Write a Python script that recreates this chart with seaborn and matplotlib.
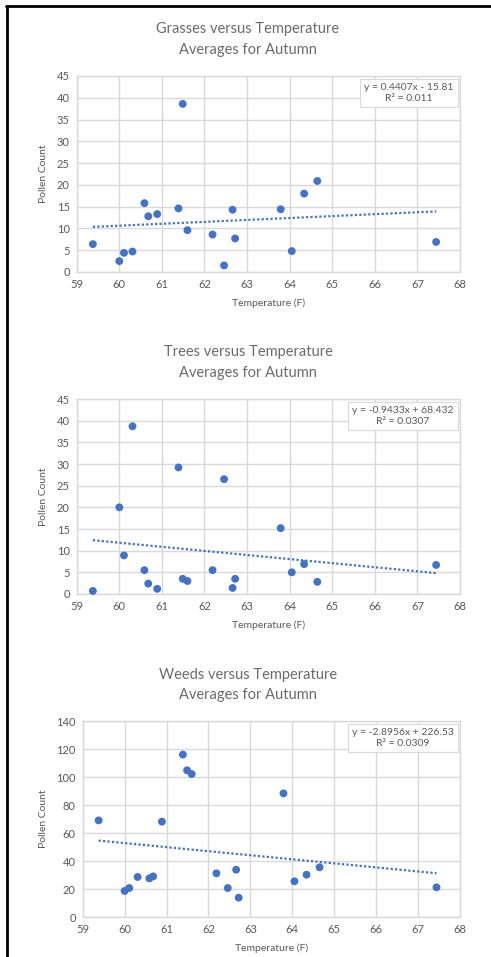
import matplotlib
matplotlib.use("Agg")
import matplotlib.pyplot as plt
import seaborn as sns
import numpy as np
import pandas as pd
from matplotlib.lines import Line2D

# ---- data ----
temperature = [59.38, 60.0, 60.11, 60.31, 60.59, 60.68, 60.89, 61.39, 61.49, 61.60,
               62.19, 62.46, 62.66, 62.72, 63.79, 64.05, 64.34, 64.65, 67.44]
grasses = [6.4, 2.5, 4.4, 4.7, 15.8, 12.8, 13.3, 14.6, 38.6, 9.6,
           8.6, 1.5, 14.3, 7.7, 14.4, 4.8, 18.0, 20.9, 6.9]
trees = [0.7, 20.0, 8.9, 38.7, 5.5, 2.4, 1.2, 29.2, 3.5, 3.0,
         5.5, 26.5, 1.4, 3.5, 15.2, 5.0, 6.9, 2.8, 6.7]
weeds = [69.0, 18.6, 20.7, 28.6, 27.6, 29.0, 68.1, 116.0, 104.8, 102.1,
         31.2, 20.7, 33.8, 13.8, 88.3, 25.5, 30.2, 35.5, 21.2]

panel_names = ["Grasses", "Trees", "Weeds"]
slopes = [0.4407, -0.9433, -2.8956]
intercepts = [-15.81, 68.432, 226.53]
equations = ["y = 0.4407x - 15.81\nR² = 0.011",
             "y = -0.9433x + 68.432\nR² = 0.0307",
             "y = -2.8956x + 226.53\nR² = 0.0309"]
y_max = [45, 45, 140]
y_step = [5, 5, 20]
x_ticks = list(range(59, 69))

W, H = 491, 957
sns.set_theme(style="white")
plt.rcParams["font.family"] = ["Lato", "DejaVu Sans"]

fig = plt.figure(figsize=(W / 100, H / 100), dpi=100)
fig.patch.set_facecolor("white")

# axes boxes in pixels: left, top, right, bottom
boxes = [(76.7, 76, 460, 272), (76.7, 399, 460, 594), (82.7, 721, 460, 917)]
title_y = [(29, 50), (352, 373), (675, 695)]

blue = "#4472C4"
gray_text = "#595959"
title_c = "#6b6b6b"
grid_c = "#d9d9d9"

series = [grasses, trees, weeds]
for i in range(3):
    l, t, r, b = boxes[i]
    ax = fig.add_axes([l / W, (H - b) / H, (r - l) / W, (b - t) / H])
    df = pd.DataFrame({"Temperature": temperature, "Count": series[i]})
    sns.scatterplot(data=df, x="Temperature", y="Count", ax=ax, color=blue,
                    s=32, edgecolor="none", zorder=3, clip_on=False)
    xs = np.array([min(temperature), max(temperature)])
    ax.plot(xs, slopes[i] * xs + intercepts[i], color=blue, lw=1.6,
            linestyle=(0, (1, 1)), zorder=2)
    ax.set_xlim(59, 68)
    ax.set_ylim(0, y_max[i])
    ax.set_xticks(x_ticks)
    ax.set_yticks(np.arange(0, y_max[i] + 1, y_step[i]))
    ax.grid(True, color=grid_c, lw=1.0, zorder=0)
    ax.set_axisbelow(True)
    for sp in ax.spines.values():
        sp.set_visible(True)
        sp.set_color(grid_c)
        sp.set_linewidth(1.0)
    ax.tick_params(axis="both", length=0, labelsize=8, colors=gray_text, pad=5)
    ax.set_xlabel("Temperature (F)", fontsize=7.5, color=gray_text, labelpad=6)
    ax.set_ylabel("Pollen Count", fontsize=7.5, color=gray_text, labelpad=6)
    ax.text(0.984, 0.962, equations[i], transform=ax.transAxes, ha="right", va="top",
            multialignment="center", fontsize=7.5, color=gray_text, zorder=5,
            bbox=dict(boxstyle="square,pad=0.4", facecolor="white", edgecolor=grid_c, lw=0.8))
    fig.text(248 / W, 1 - title_y[i][0] / H, f"{panel_names[i]} versus Temperature",
             ha="center", va="center", fontsize=10.5, color=title_c)
    fig.text(248 / W, 1 - title_y[i][1] / H, "Averages for Autumn",
             ha="center", va="center", fontsize=10.5, color=title_c)

# black frame (top and left edges)
fig.add_artist(Line2D([6.5 / W, 6.5 / W], [0, 1 - 5.5 / H], color="black", lw=2.0,
                      transform=fig.transFigure))
fig.add_artist(Line2D([5.5 / W, 1], [1 - 6 / H, 1 - 6 / H], color="black", lw=2.0,
                      transform=fig.transFigure))

fig.savefig("out.png", dpi=100, facecolor="white")
